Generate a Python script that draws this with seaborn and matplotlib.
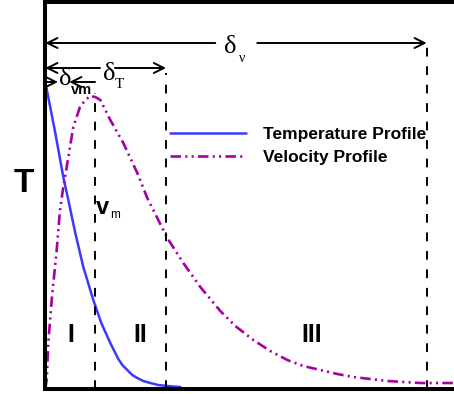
import seaborn as sns
import matplotlib.pyplot as plt

# distance from the wall and profile heights
temp_x = [0, 10, 18, 23, 30, 38, 48, 56, 60, 65, 69, 73, 77, 82, 87, 92, 98, 105, 113, 122, 135]
temp_y = [307, 256, 212, 189, 156, 122, 89, 66, 57, 46, 38, 30, 24, 19, 14, 11, 8, 6, 4, 3, 2]

vel_x = [0, 1.4, 3, 6.4, 11.4, 14.7, 18, 21.4, 24.7, 28, 34.7, 40, 45, 50, 55, 65,
         78, 92, 102, 112, 122, 138, 155, 175, 190, 208, 225, 242, 258, 275, 292,
         308, 325, 342, 375, 435]
vel_y = [0, 9, 46, 89, 139, 179, 202, 222, 242, 262, 282, 289, 293, 292, 289, 269,
         246, 216, 191, 171, 151, 126, 102, 78, 63, 49, 38, 29, 23, 19, 15,
         12, 10, 8, 6, 6]

# layer edges: delta_vm, delta_T, delta_nu
edges = [49.7, 120.7, 381.4]
edge_tops = [296, 316, 346]
regions = ['I', 'II', 'III']
region_x = [25.2, 94.7, 266.7]

BLUE = '#3a3aff'
PURPLE = '#a500a5'

sns.set_style('white')
plt.rcParams['font.family'] = ['Liberation Sans', 'DejaVu Sans']
plt.rcParams['text.color'] = 'black'

fig = plt.figure(figsize=(4.54, 3.94), dpi=100)
ax = fig.add_axes([45.3 / 454, 5 / 394, (480 - 45.3) / 454, 387 / 394])

sns.lineplot(x=temp_x, y=temp_y, ax=ax, color=BLUE, lw=1.8, sort=False,
             estimator=None, label='Temperature Profile')
sns.lineplot(x=vel_x, y=vel_y, ax=ax, color=PURPLE, lw=1.9, sort=False,
             estimator=None, label='Velocity Profile',
             linestyle=(0, (4, 1.6, 0.8, 1.6, 0.8, 1.6)))

ax.vlines(edges, 0, edge_tops, colors='black', lw=1.4,
          linestyles=[(0, (4.5, 5))] * 3)

ax.set_xlim(0, 480 - 45.3)
ax.set_ylim(0, 387)
ax.set_xticks([])
ax.set_yticks([])
for side in ['left', 'top', 'bottom']:
    ax.spines[side].set_linewidth(2.9)
    ax.spines[side].set_color('black')
ax.spines['right'].set_visible(False)

# thickness arrows
arrow = dict(arrowstyle='->, head_length=0.6, head_width=0.3', lw=1.4,
             color='black', shrinkA=0, shrinkB=0, mutation_scale=12)
ax.annotate('', xy=(0, 346), xytext=(170, 346), arrowprops=arrow)
ax.annotate('', xy=(edges[2], 346), xytext=(212, 346), arrowprops=arrow)
ax.annotate('', xy=(0, 321), xytext=(54.7, 321), arrowprops=arrow)
ax.annotate('', xy=(edges[1], 321), xytext=(69.7, 321), arrowprops=arrow)
ax.annotate('', xy=(12.7, 307), xytext=(0, 307), arrowprops=arrow)
ax.annotate('', xy=(24, 307), xytext=(edges[0], 307), arrowprops=arrow)

serif = 'Liberation Serif'
ax.text(184.7, 342, 'δ', family=serif, fontsize=19, ha='center', va='center')
ax.text(196.7, 331, 'ν', family=serif, fontsize=10, ha='center', va='center')
ax.text(63.7, 315, 'δ', family=serif, fontsize=19, ha='center', va='center')
ax.text(74, 305, 'T', family=serif, fontsize=11, ha='center', va='center')
ax.text(19.7, 310, 'δ', family=serif, fontsize=19, ha='center', va='center')
ax.text(36, 298.5, 'vm', fontsize=10.5, fontweight='bold', ha='center', va='center')

ax.text(56.7, 182, 'v', fontsize=17, fontweight='bold', ha='center', va='center')
ax.text(70.2, 173.5, 'm', fontsize=8.5, ha='center', va='center')

ax.text(-21.3, 206, 'T', fontsize=24, fontweight='bold', ha='center',
        va='center', clip_on=False)

for label, x in zip(regions, region_x):
    ax.text(x, 54, label, fontsize=18, fontweight='bold', ha='center', va='center')

ax.legend(loc='upper left', bbox_to_anchor=(170 / 454, (394 - 127) / 394),
          bbox_transform=fig.transFigure, frameon=False, borderpad=0,
          borderaxespad=0, handlelength=4.4, handletextpad=0.97,
          labelspacing=0.42, prop={'weight': 'bold', 'size': 12.5})

fig.savefig('out.png', dpi=100)
